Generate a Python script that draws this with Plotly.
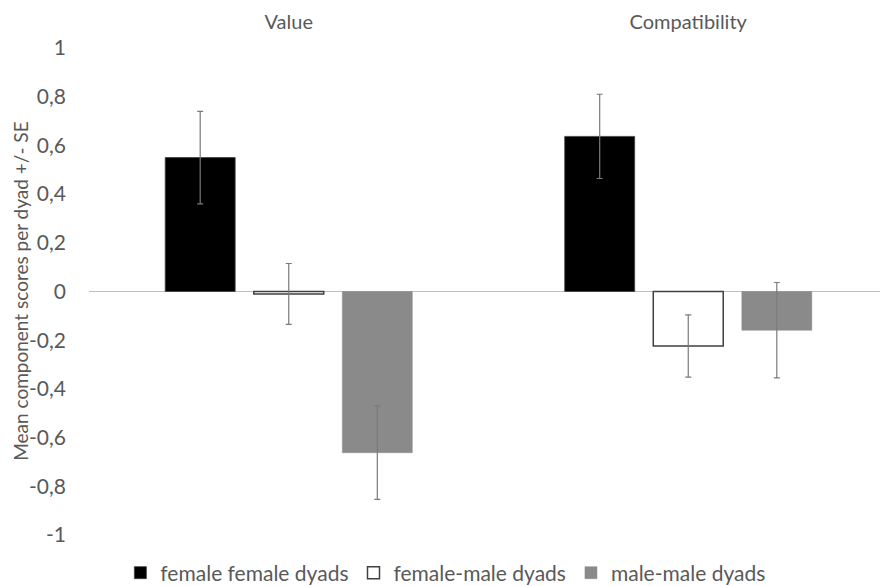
import plotly.graph_objects as go

categories = ["Value", "Compatibility"]

ff_means = [0.55, 0.637]
ff_se = [0.19, 0.173]

fm_means = [-0.01, -0.224]
fm_se = [0.125, 0.128]

mm_means = [-0.662, -0.159]
mm_se = [0.192, 0.196]

y_ticks = [1, 0.8, 0.6, 0.4, 0.2, 0, -0.2, -0.4, -0.6, -0.8, -1]
y_labels = ["1", "0,8", "0,6", "0,4", "0,2", "0", "-0,2", "-0,4", "-0,6", "-0,8", "-1"]

y_title = "Mean component scores per dyad +/- SE"

text_col = "#595959"
err_col = "#7a7a7a"
font_fam = "Lato, Open Sans, sans-serif"

def err(se):
    return dict(type="data", array=se, visible=True, color=err_col, thickness=1.2, width=3)

fig = go.Figure()
fig.add_trace(go.Bar(x=categories, y=ff_means, name="female female dyads",
                     marker=dict(color="#000000", line=dict(color="#404040", width=0.8)),
                     error_y=err(ff_se)))
fig.add_trace(go.Bar(x=categories, y=fm_means, name="female-male dyads",
                     marker=dict(color="#ffffff", line=dict(color="#404040", width=1.5)),
                     error_y=err(fm_se)))
fig.add_trace(go.Bar(x=categories, y=mm_means, name="male-male dyads",
                     marker=dict(color="#8a8a8a", line=dict(color="#8a8a8a", width=0.5)),
                     error_y=err(mm_se)))

# page body has an 8px margin, so the figure is sized to fit the window
fig.update_layout(
    width=880, height=578,
    margin=dict(l=81, r=0, t=40, b=51),
    paper_bgcolor="white", plot_bgcolor="white",
    barmode="group", bargap=0.335, bargroupgap=0.21,
    font=dict(family=font_fam, size=21, color=text_col),
    showlegend=True,
    legend=dict(orientation="h", xref="container", yref="container",
                x=0.497, xanchor="center", y=0.0225, yanchor="middle",
                font=dict(family=font_fam, size=21, color=text_col), itemwidth=30,
                traceorder="normal"),
)
fig.update_xaxes(side="top", showline=False, showgrid=False, ticks="", automargin=False,
                 ticklabelstandoff=14, tickfont=dict(size=20, color=text_col))
fig.update_yaxes(range=[-1, 1], tickvals=y_ticks, ticktext=y_labels, automargin=False,
                 showgrid=False, showline=False, ticks="",
                 zeroline=True, zerolinecolor="#bfbfbf", zerolinewidth=1.3,
                 ticklabelstandoff=22)

# y title as an annotation, kept just inside the left edge
fig.add_annotation(text=y_title, textangle=-90, xref="paper", yref="paper",
                   x=-0.086, y=0.5, xanchor="center", yanchor="middle",
                   showarrow=False, borderpad=0, font=dict(size=19, color=text_col))

fig.write_html("out.html")
